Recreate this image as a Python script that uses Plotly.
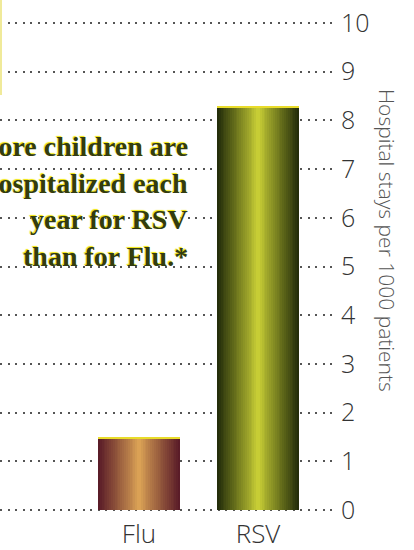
import plotly.graph_objects as go

# ---------------- data ----------------
categories = ["Flu", "RSV"]
values = [1.5, 8.3]
y_tick_values = list(range(0, 11))
y_title = "Hospital stays per 1000 patients"
message_lines = ["More children are", "hospitalized each", "year for RSV", "than for Flu.*"]

# ---------------- style ----------------
edge_colors = [(0x5a, 0x1c, 0x28), (0x24, 0x2e, 0x0a)]
center_colors = [(0xe2, 0xaa, 0x58), (0xd2, 0xd8, 0x38)]
BAR_W = 0.69
N_STEPS = 22

W, H = 414, 550
ML, MR, MT, MB = 0, 79, 20, 37
PW, PH = W - ML - MR, H - MT - MB
Y_PAD = 0.06


def px_x(x):
    return (x - ML) / PW


def px_y(y):
    return (H - MB - y) / PH


def mix(a, b, f):
    return "rgb(%d,%d,%d)" % tuple(round(a[i] + (b[i] - a[i]) * f) for i in range(3))


fig = go.Figure()
for k in range(N_STEPS):
    d = 1 - k / N_STEPS           # normalised distance from bar centre
    f = 1 - d ** 0.9
    fig.add_trace(go.Bar(
        x=categories, y=values, width=BAR_W * d,
        marker=dict(color=[mix(e, c, f) for e, c in zip(edge_colors, center_colors)], line=dict(width=0)),
        hoverinfo="skip", showlegend=False,
    ))
# thin yellow rim on top of each bar
rim = 0.05
fig.add_trace(go.Bar(
    x=categories, y=[rim] * len(values), base=[v - rim for v in values], width=BAR_W,
    marker=dict(color="#e9dc2a", line=dict(width=0)), hoverinfo="skip", showlegend=False,
))

fig.update_layout(
    width=W, height=H, margin=dict(l=ML, r=MR, t=MT, b=MB, autoexpand=False),
    paper_bgcolor="white", plot_bgcolor="white", barmode="overlay", bargap=0,
    showlegend=False,
    xaxis=dict(type="category", range=[-1.168, 1.647], showgrid=False, zeroline=False, automargin=False,
               showline=False, ticks="", tickfont=dict(family="Open Sans", size=26, color="#333", weight=300),
               ticklabelstandoff=3),
    yaxis=dict(range=[-Y_PAD, 10 + Y_PAD], tickvals=y_tick_values, side="right", showgrid=True,
               automargin=False,
               griddash="2px,5.5px", gridcolor="#555", gridwidth=1.8, zeroline=False, showline=False,
               ticks="", tickfont=dict(family="Open Sans", size=25, color="#333", weight=300),
               ticklabelstandoff=5),
)

# white areas hiding grid behind the message and top-left corner
fig.add_shape(type="rect", xref="paper", yref="paper", x0=-0.02, x1=px_x(215), y0=px_y(292), y1=px_y(100),
              fillcolor="white", line=dict(width=0), layer="between")
fig.add_shape(type="rect", xref="paper", yref="paper", x0=-0.02, x1=px_x(14), y0=px_y(100), y1=1.05,
              fillcolor="white", line=dict(width=0), layer="between")
fig.add_shape(type="line", xref="paper", yref="paper", x0=px_x(1), x1=px_x(1), y0=px_y(95), y1=1.05,
              line=dict(color="#f0ea9a", width=2), layer="above")

centers = [146, 183, 219, 256]
for line, cy in zip(message_lines, centers):
    fig.add_annotation(
        text=line, xref="paper", yref="paper", x=px_x(190), y=px_y(cy), xanchor="right", yanchor="middle",
        showarrow=False,
        font=dict(family="Liberation Serif", size=28, weight="bold", color="#323c10",
                  shadow="-1px -1px 1px #f0e400"),
    )

fig.add_annotation(
    text=y_title, xref="paper", yref="paper", x=px_x(387), y=px_y(240), xanchor="center", yanchor="middle",
    textangle=90, showarrow=False,
    font=dict(family="Open Sans", size=21, color="#555", weight=300),
)

fig.write_html("out.html")
